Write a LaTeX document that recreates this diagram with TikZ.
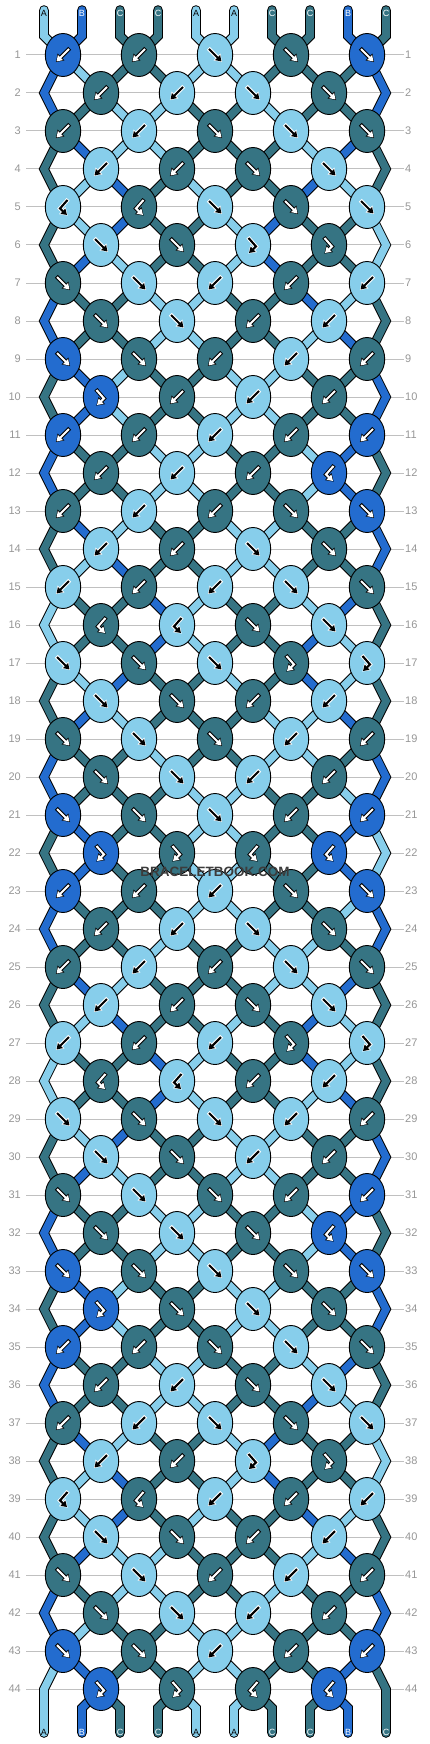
\documentclass[tikz,border=0pt]{standalone}
\usepackage{fontspec}
\setmainfont{Liberation Sans}
\usetikzlibrary{arrows.meta,shapes.geometric}

\definecolor{colA}{RGB}{135,206,235}
\definecolor{colB}{RGB}{35,108,207}
\definecolor{colC}{RGB}{54,116,131}
\definecolor{rowgray}{RGB}{192,192,192}
\definecolor{numgray}{RGB}{150,150,150}
\definecolor{markgray}{RGB}{60,60,60}
\colorlet{labA}{black}
\colorlet{labB}{white}
\colorlet{labC}{white}

\pgfdeclarelayer{strands}
\pgfsetlayers{strands,main}

% f = forward, b = backward, r = forward-backward, l = backward-forward
\def\sidef{lstr}\def\sideb{rstr}\def\sider{lstr}\def\sidel{rstr}
\def\swapf{1}\def\swapb{1}\def\swapr{0}\def\swapl{0}
\def\glyphf{(-6,-6) -- (6.5,6.5)}
\def\glyphb{(6,-6) -- (-6.5,6.5)}
\def\glyphr{(-4.5,-7) -- (3,1.5) -- (-4,8)}
\def\glyphl{(4.5,-7) -- (-3,1.5) -- (4,8)}

\newcommand\addpt[2]{%
  \expandafter\xdef\csname sp#1\endcsname{\csname sp#1\endcsname\space -- (#2)}}

\tikzset{
  knot/.style={ellipse, draw=black, line width=0.9pt, minimum width=35.4pt,
    minimum height=43pt, inner sep=0pt},
  strand edge/.style={draw=black, line width=9.6pt, line cap=round},
  strand/.style={line width=7.6pt, line cap=round},
  glyph edge/.style={line width=4pt, -{Triangle[length=7.4pt,width=9.2pt]},
    shorten >=-0.9pt, shorten <=-0.9pt},
  glyph core/.style={line width=2.1pt, -{Triangle[length=5.6pt,width=6.8pt]}},
  glyph edge A/.style={draw=white}, glyph core A/.style={draw=black},
  glyph edge B/.style={draw=black}, glyph core B/.style={draw=white},
  glyph edge C/.style={draw=black}, glyph core C/.style={draw=white},
  rownum/.style={text=numgray, font=\fontsize{11pt}{11pt}\selectfont, inner sep=0pt},
  rowline/.style={draw=rowgray, line width=1pt},
  strlabel/.style={font=\fontsize{9pt}{9pt}\selectfont, inner sep=0pt},
}

\begin{document}
\begin{tikzpicture}[x=1pt,y=-1pt]
\useasboundingbox (0,0) rectangle (430,1744);

% row numbers and guide lines
\begin{pgfonlayer}{strands}
\foreach \row in {1,...,44}{
  \node[rownum, anchor=east] (nl-\row) at (21,{55+38*(\row-1)}) {\row};
  \node[rownum, anchor=west] (nr-\row) at (405,{55+38*(\row-1)}) {\row};
  \draw[rowline] ([xshift=5pt]nl-\row.east) -- ([xshift=-1pt]nr-\row.west);
}
\end{pgfonlayer}

% strings at the top
\foreach \strcol [count=\s from 0] in {A,B,C,C,A,A,C,C,B,C}{
  \expandafter\xdef\csname sc\s\endcsname{\strcol}
  \expandafter\xdef\csname at\s\endcsname{\s}
  \expandafter\xdef\csname sp\s\endcsname{(t-\s) -- (tb-\s)}
  \coordinate (t-\s) at ({44+38*\s},10);
  \coordinate (tb-\s) at ({44+38*\s},36);
  \node[strlabel, text=lab\strcol] (lt-\s) at ({44+38*\s},13) {\strcol};
}

% knots, row by row
\foreach \types [count=\row] in {%
{b,b,f,f,f},{b,b,f,f},{b,b,f,f,f},{b,b,f,f},{l,l,f,f,f},{f,f,r,r},%
{f,f,b,b,b},{f,f,b,b},{f,f,b,b,b},{r,b,b,b},{b,b,b,b,b},{b,b,b,l},%
{b,b,b,f,f},{b,b,f,f},{b,b,b,f,f},{l,l,f,f},{f,f,f,r,r},{f,f,b,b},%
{f,f,f,b,b},{f,f,b,b},{f,f,f,b,b},{r,r,l,l},{b,b,b,f,f},{b,b,f,f},%
{b,b,b,f,f},{b,b,f,f},{b,b,b,r,r},{l,l,b,b},{f,f,f,b,b},{f,f,b,b},%
{f,f,f,b,b},{f,f,f,l},{f,f,f,f,f},{r,f,f,f},{b,b,f,f,f},{b,b,f,f},%
{b,b,f,f,f},{b,b,r,r},{l,l,b,b,b},{f,f,b,b},{f,f,b,b,b},{f,f,b,b},%
{f,f,b,b,b},{r,r,l,l}}{
  \pgfmathtruncatemacro\yy{55+38*(\row-1)}
  \pgfmathtruncatemacro\odd{mod(\row,2)}
  \ifnum\odd=0
    \coordinate (eL-\row) at (44,\yy);
    \coordinate (eR-\row) at (386,\yy);
    \addpt{\csname at0\endcsname}{eL-\row}%
    \addpt{\csname at9\endcsname}{eR-\row}%
  \fi
  \foreach \kt [count=\kn] in \types {
    \pgfmathtruncatemacro\lp{\odd==1 ? 2*\kn-2 : 2*\kn-1}
    \pgfmathtruncatemacro\rp{\lp+1}
    \edef\lstr{\csname at\lp\endcsname}
    \edef\rstr{\csname at\rp\endcsname}
    \edef\kc{\csname sc\csname\csname side\kt\endcsname\endcsname\endcsname}
    \node[knot, fill=col\kc] (k-\row-\kn) at ({63+38*\lp},\yy) {};
    \edef\gl{\csname glyph\kt\endcsname}
    \draw[glyph edge, glyph edge \kc, shift={(k-\row-\kn.center)}] \gl;
    \draw[glyph core, glyph core \kc, shift={(k-\row-\kn.center)}] \gl;
    \addpt{\lstr}{k-\row-\kn.center}%
    \addpt{\rstr}{k-\row-\kn.center}%
    \ifnum\csname swap\kt\endcsname=1
      \expandafter\xdef\csname at\lp\endcsname{\rstr}%
      \expandafter\xdef\csname at\rp\endcsname{\lstr}%
    \fi
  }
}

% strings at the bottom
\foreach \strcol [count=\s from 0] in {A,B,C,C,A,A,C,C,B,C}{
  \coordinate (ub-\s) at ({44+38*\s},1708);
  \coordinate (u-\s) at ({44+38*\s},1733);
  \addpt{\csname at\s\endcsname}{ub-\s}%
  \addpt{\csname at\s\endcsname}{u-\s}%
  \node[strlabel, text=lab\strcol] (lb-\s) at ({44+38*\s},1732) {\strcol};
}

\begin{pgfonlayer}{strands}
\foreach \s in {0,...,9}{
  \edef\strandpath{\csname sp\s\endcsname}
  \draw[strand edge] \strandpath;
}
\foreach \s in {0,...,9}{
  \edef\strandpath{\csname sp\s\endcsname}
  \edef\strcol{\csname sc\s\endcsname}
  \draw[strand, draw=col\strcol] \strandpath;
}
\end{pgfonlayer}

\node[font=\bfseries\fontsize{13.5pt}{13.5pt}\selectfont, text=markgray] (mark) at (215,872) {BRACELETBOOK.COM};

\end{tikzpicture}
\end{document}
